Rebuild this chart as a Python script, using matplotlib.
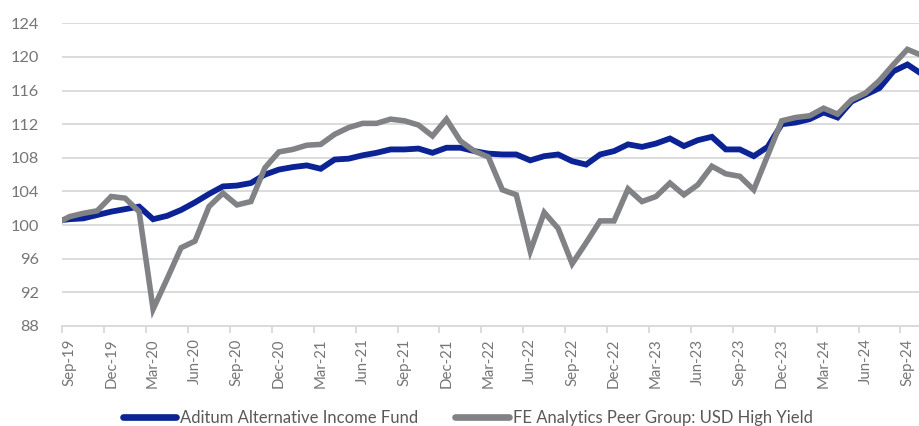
import matplotlib
matplotlib.use("Agg")
import matplotlib.pyplot as plt
import numpy as np

months = ["Aug-19",
          "Sep-19", "Oct-19", "Nov-19", "Dec-19", "Jan-20", "Feb-20", "Mar-20", "Apr-20", "May-20", "Jun-20",
          "Jul-20", "Aug-20", "Sep-20", "Oct-20", "Nov-20", "Dec-20", "Jan-21", "Feb-21", "Mar-21", "Apr-21",
          "May-21", "Jun-21", "Jul-21", "Aug-21", "Sep-21", "Oct-21", "Nov-21", "Dec-21", "Jan-22", "Feb-22",
          "Mar-22", "Apr-22", "May-22", "Jun-22", "Jul-22", "Aug-22", "Sep-22", "Oct-22", "Nov-22", "Dec-22",
          "Jan-23", "Feb-23", "Mar-23", "Apr-23", "May-23", "Jun-23", "Jul-23", "Aug-23", "Sep-23", "Oct-23",
          "Nov-23", "Dec-23", "Jan-24", "Feb-24", "Mar-24", "Apr-24", "May-24", "Jun-24", "Jul-24", "Aug-24",
          "Sep-24", "Oct-24"]

aditum = [100.5,
          100.7, 100.8, 101.2, 101.6, 101.9, 102.2, 100.7, 101.1, 101.8, 102.7,
          103.7, 104.6, 104.7, 105.0, 106.0, 106.6, 106.9, 107.1, 106.7, 107.8,
          107.9, 108.3, 108.6, 109.0, 109.0, 109.1, 108.6, 109.2, 109.2, 108.8,
          108.5, 108.4, 108.4, 107.7, 108.2, 108.4, 107.6, 107.2, 108.4, 108.8,
          109.6, 109.3, 109.7, 110.3, 109.4, 110.1, 110.5, 109.0, 109.0, 108.2,
          109.3, 112.0, 112.2, 112.6, 113.4, 112.8, 114.7, 115.5, 116.3, 118.3,
          119.1, 118.0]

peer = [100.1,
        101.0, 101.4, 101.7, 103.4, 103.2, 101.6, 90.0, 93.6, 97.3, 98.1,
        102.2, 103.8, 102.4, 102.8, 106.8, 108.7, 109.0, 109.5, 109.6, 110.8,
        111.6, 112.1, 112.1, 112.6, 112.4, 111.9, 110.6, 112.6, 110.0, 108.8,
        108.1, 104.2, 103.6, 96.9, 101.5, 99.6, 95.4, 97.9, 100.5, 100.5,
        104.3, 102.8, 103.4, 105.0, 103.6, 104.8, 107.0, 106.1, 105.8, 104.2,
        108.3, 112.4, 112.8, 113.0, 113.9, 113.2, 114.9, 115.7, 117.2, 119.1,
        120.9, 120.2]

series_names = ["Aditum Alternative Income Fund", "FE Analytics Peer Group: USD High Yield"]
yticks = [88, 92, 96, 100, 104, 108, 112, 116, 120, 124]

BLUE = "#0B2394"
GRAY = "#818285"
TXT = "#767676"
GRID = "#D9D9D9"

plt.rcParams['font.family'] = ['Lato', 'DejaVu Sans']

fig = plt.figure(figsize=(9.19, 4.26), dpi=100)
ax = fig.add_axes([62.3 / 919, 1 - 326 / 426, 1 - 62.3 / 919, (326 - 23.3) / 426])

x = np.arange(len(months)) - 1  # Sep-19 at position 0

ax.plot(x, aditum, color=BLUE, lw=4.2, solid_joinstyle='miter', label=series_names[0], zorder=3)
ax.plot(x, peer, color=GRAY, lw=4.0, solid_joinstyle='miter', label=series_names[1], zorder=4)

ax.set_ylim(88, 124)
ax.set_xlim(-0.5, 60.83)
ax.set_yticks(yticks)
ax.yaxis.grid(True, color=GRID, lw=1.3)
ax.set_axisbelow(True)

for s in ['top', 'right', 'left']:
    ax.spines[s].set_visible(False)
ax.spines['bottom'].set_color(GRID)
ax.spines['bottom'].set_linewidth(1.3)

# major ticks at category boundaries, labels at category centers
label_pos = x[1::3]
label_txt = months[1::3]
ax.set_xticks(label_pos - 0.5)
ax.set_xticklabels([])
ax.set_xticks(label_pos, minor=True)
ax.set_xticklabels(label_txt, minor=True, rotation=90, fontsize=10.8, color=TXT)
ax.tick_params(axis='x', which='major', length=5, width=1.3, color=GRID)
ax.tick_params(axis='x', which='minor', length=0, pad=9)
ax.tick_params(axis='y', length=0, pad=17, labelsize=11.8, labelcolor=TXT)

leg = fig.legend(loc='center', bbox_to_anchor=(0.509, 1 - 418 / 426), ncol=2, frameon=False,
                 fontsize=12.0, handlelength=3.2, handletextpad=0.25, columnspacing=2.2,
                 borderpad=0.0, borderaxespad=0.0)
for t in leg.get_texts():
    t.set_color("#595959")
for h in leg.get_lines():
    h.set_linewidth(4.8)
    h.set_solid_capstyle('round')

fig.savefig("out.png", dpi=100)
